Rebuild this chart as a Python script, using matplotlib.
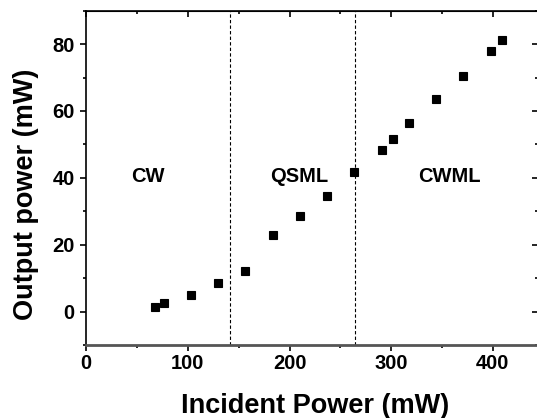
import matplotlib.pyplot as plt
from matplotlib.ticker import MultipleLocator

plt.rcParams['font.family'] = ['Liberation Sans', 'DejaVu Sans']
plt.rcParams['font.weight'] = 'bold'

incident = [67.5, 76.3, 102.9, 129.6, 156.3, 183.3, 210.3, 237.3, 263.9,
            290.6, 301.7, 317.6, 344.2, 371.2, 397.9, 408.7]
output = [1.4, 2.6, 4.9, 8.7, 12.1, 23.0, 28.5, 34.6, 41.8,
          48.3, 51.7, 56.3, 63.7, 70.5, 77.8, 81.2]
boundaries = [141.1, 264.6]
regions = ['CW', 'QSML', 'CWML']
region_x = [60.7, 209.6, 357.0]
region_y = 40.5

fig = plt.figure(figsize=(5.37, 4.18), dpi=100)
ax = fig.add_axes([0.1607, 0.1746, 0.842, 0.7998])

ax.plot(incident, output, 's', color='black', markersize=5.6, markeredgewidth=0.8)
for b in boundaries:
    ax.axvline(b, color='black', linestyle=(0, (3, 2)), linewidth=0.8)
for name, x in zip(regions, region_x):
    ax.text(x, region_y, name, ha='center', va='center', fontsize=14.5, fontweight='bold')

ax.set_xlim(0, 445)
ax.set_ylim(-10, 90)
ax.xaxis.set_major_locator(MultipleLocator(100))
ax.xaxis.set_minor_locator(MultipleLocator(50))
ax.yaxis.set_major_locator(MultipleLocator(20))
ax.yaxis.set_minor_locator(MultipleLocator(10))
ax.tick_params(which='both', direction='out', labelsize=14.5, width=1.2)
ax.tick_params(which='major', length=4.3)
ax.tick_params(which='minor', length=2.2)
ax.tick_params(axis='x', which='major', pad=2.5)
ax.tick_params(axis='y', which='major', pad=4)

# mirrored inward ticks on top and right
sec_x = ax.secondary_xaxis('top')
sec_x.xaxis.set_major_locator(MultipleLocator(100))
sec_x.xaxis.set_minor_locator(MultipleLocator(50))
sec_x.tick_params(which='both', direction='in', labeltop=False, width=1.2)
sec_x.tick_params(which='major', length=4.3)
sec_x.tick_params(which='minor', length=2.2)
sec_y = ax.secondary_yaxis('right')
sec_y.yaxis.set_major_locator(MultipleLocator(20))
sec_y.yaxis.set_minor_locator(MultipleLocator(10))
sec_y.tick_params(which='both', direction='in', labelright=False, width=1.2)
sec_y.tick_params(which='major', length=4.3)
sec_y.tick_params(which='minor', length=2.2)

for s in ax.spines.values():
    s.set_linewidth(1.2)
ax.spines['bottom'].set_color('#555555')
ax.spines['bottom'].set_linewidth(2)

ax.set_xlabel('Incident Power (mW)', fontsize=19.5, fontweight='bold')
ax.set_ylabel('Output power (mW)', fontsize=19.5, fontweight='bold')
ax.xaxis.set_label_coords(0.507, -0.144)
ax.yaxis.set_label_coords(-0.105, 0.452)

fig.savefig('out.png', dpi=100)
